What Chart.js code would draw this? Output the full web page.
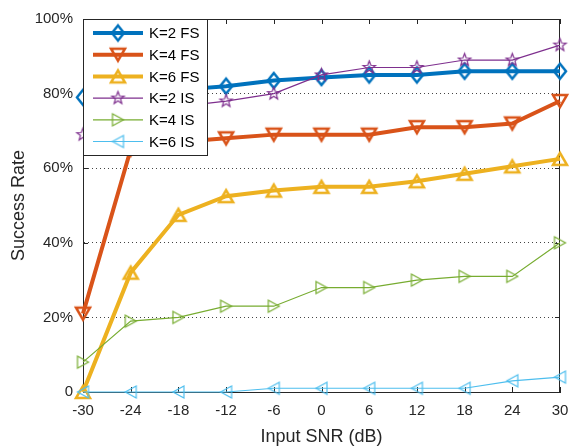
<!DOCTYPE html>
<html>
<head>
<meta charset="utf-8">
<script src="https://cdn.jsdelivr.net/npm/chart.js@4"></script>
<style>
  html, body { margin: 0; padding: 0; background: #fff; }
  canvas { display: block; }
</style>
</head>
<body>
<canvas id="chart1" width="570" height="448"></canvas>
<script>
// данные
const snr = [-30, -24, -18, -12, -6, 0, 6, 12, 18, 24, 30];
const k2fs = [79, 80, 81, 82, 83.5, 84.3, 85, 85, 86, 86, 86];
const k4fs = [21, 65, 67, 68, 69, 69, 69, 71, 71, 72, 78];
const k6fs = [0, 32, 47.5, 52.5, 54, 55, 55, 56.5, 58.5, 60.5, 62.5];
const k2is = [69, 74, 76.5, 78, 80, 85, 87, 87, 89, 89, 93];
const k4is = [8, 19, 20, 23, 23, 28, 28, 30, 31, 31, 40];
const k6is = [0, 0, 0, 0, 1, 1, 1, 1, 1, 3, 4];

const seriesNames = ['K=2 FS', 'K=4 FS', 'K=6 FS', 'K=2 IS', 'K=4 IS', 'K=6 IS'];
const yTicks = [0, 20, 40, 60, 80, 100];
const yTickLabels = ['0', '20%', '40%', '60%', '80%', '100%'];

const axisColor = '#262626';

// маркеры в стиле MATLAB (без заливки)
function marker(shape, color, w, h, lw) {
    const c = document.createElement('canvas');
    const pad = Math.ceil(lw) + 1;
    c.width = w + 2 * pad;
    c.height = h + 2 * pad;
    const g = c.getContext('2d');
    g.strokeStyle = color;
    g.lineWidth = lw;
    g.lineJoin = 'miter';
    g.translate(c.width / 2, c.height / 2);
    const a = w / 2, b = h / 2;
    g.beginPath();
    if (shape === 'diamond') {
        g.moveTo(0, -b); g.lineTo(a, 0); g.lineTo(0, b); g.lineTo(-a, 0);
    } else if (shape === 'down') {
        g.moveTo(-a, -b); g.lineTo(a, -b); g.lineTo(0, b);
    } else if (shape === 'up') {
        g.moveTo(-a, b); g.lineTo(a, b); g.lineTo(0, -b);
    } else if (shape === 'right') {
        g.moveTo(-a, -b); g.lineTo(a, 0); g.lineTo(-a, b);
    } else if (shape === 'left') {
        g.moveTo(a, -b); g.lineTo(-a, 0); g.lineTo(a, b);
    } else if (shape === 'star') {
        for (let i = 0; i < 10; i++) {
            const r = i % 2 === 0 ? a : a * 0.42;
            const ang = -Math.PI / 2 + i * Math.PI / 5;
            const px = Math.cos(ang) * r, py = Math.sin(ang) * r;
            if (i === 0) g.moveTo(px, py); else g.lineTo(px, py);
        }
    }
    g.closePath();
    g.stroke();
    return c;
}

const colors = ['#0072BD', '#D95319', '#EDB120', '#7E2F8E', '#77AC30', '#4DBEEE'];
const widths = [4, 4, 4, 1.2, 1.2, 1.2];
const markers = [
    marker('diamond', colors[0], 12, 15, 2.5),
    marker('down', colors[1], 14, 12, 2.5),
    marker('up', colors[2], 14, 12, 2.5),
    marker('star', colors[3], 13, 13, 1.2),
    marker('right', colors[4], 11, 12, 1.2),
    marker('left', colors[5], 11, 12, 1.2)
];
const allSeries = [k2fs, k4fs, k6fs, k2is, k4is, k6is];

const datasets = allSeries.map((vals, i) => ({
    label: seriesNames[i],
    data: snr.map((x, j) => ({ x: x, y: vals[j] })),
    borderColor: colors[i],
    borderWidth: widths[i],
    pointStyle: markers[i],
    pointRadius: 6,
    tension: 0,
    clip: false,
    order: 6 - i
}));

// рамка: верхняя и правая линии + тики внутрь
const framePlugin = {
    id: 'frame',
    beforeDatasetsDraw(chart) {
        const { ctx, chartArea: ca, scales } = chart;
        ctx.save();
        ctx.strokeStyle = axisColor;
        ctx.lineWidth = 1;
        ctx.beginPath();
        ctx.moveTo(ca.left, ca.top + 0.5); ctx.lineTo(ca.right, ca.top + 0.5);
        ctx.moveTo(ca.right - 0.5, ca.top); ctx.lineTo(ca.right - 0.5, ca.bottom);
        snr.forEach(v => {
            const x = Math.round(scales.x.getPixelForValue(v)) + 0.5;
            ctx.moveTo(x, ca.bottom); ctx.lineTo(x, ca.bottom - 5);
            ctx.moveTo(x, ca.top); ctx.lineTo(x, ca.top + 5);
        });
        yTicks.forEach(v => {
            const y = Math.round(scales.y.getPixelForValue(v)) + 0.5;
            ctx.moveTo(ca.left, y); ctx.lineTo(ca.left + 5, y);
            ctx.moveTo(ca.right, y); ctx.lineTo(ca.right - 5, y);
        });
        ctx.stroke();
        ctx.restore();
    }
};

// легенда в левом верхнем углу, поверх линий
const legendPlugin = {
    id: 'boxLegend',
    afterDatasetsDraw(chart) {
        const { ctx, chartArea: ca } = chart;
        const left = ca.left, top = ca.top, w = 124, h = 136;
        ctx.save();
        ctx.fillStyle = '#fff';
        ctx.fillRect(left, top, w, h);
        ctx.strokeStyle = axisColor;
        ctx.lineWidth = 1;
        ctx.strokeRect(left + 0.5, top + 0.5, w, h);
        ctx.font = '15px "Liberation Sans", Arial, sans-serif';
        ctx.textBaseline = 'middle';
        ctx.fillStyle = '#000';
        seriesNames.forEach((name, i) => {
            const y = top + 14 + i * 21.7;
            ctx.strokeStyle = colors[i];
            ctx.lineWidth = widths[i];
            ctx.beginPath();
            ctx.moveTo(left + 10, y);
            ctx.lineTo(left + 60, y);
            ctx.stroke();
            const m = markers[i];
            ctx.drawImage(m, left + 35 - m.width / 2, y - m.height / 2);
            ctx.fillText(name, left + 66, y + 1);
        });
        ctx.restore();
    }
};

Chart.defaults.font.family = '"Liberation Sans", Arial, sans-serif';
Chart.defaults.color = axisColor;

new Chart(document.getElementById('chart1').getContext('2d'), {
    type: 'line',
    data: { datasets: datasets },
    plugins: [framePlugin, legendPlugin],
    options: {
        responsive: false,
        animation: false,
        devicePixelRatio: 1,
        layout: { padding: { top: 18, right: 7, left: 0, bottom: 0 } },
        plugins: {
            legend: { display: false },
            tooltip: { enabled: false }
        },
        scales: {
            x: {
                type: 'linear',
                min: -30,
                max: 30,
                afterBuildTicks(scale) {
                    scale.ticks = snr.map(v => ({ value: v }));
                },
                afterFit(scale) {
                    scale.height = 56;
                    scale.paddingLeft = 0;
                    scale.paddingRight = 0;
                },
                ticks: { font: { size: 15 }, color: axisColor, padding: 10, maxRotation: 0 },
                grid: { display: false, drawTicks: false },
                border: { display: true, color: axisColor, width: 1 },
                title: {
                    display: true,
                    text: 'Input SNR (dB)',
                    font: { size: 18 },
                    color: axisColor,
                    padding: { top: 4, bottom: 0 }
                }
            },
            y: {
                min: 0,
                max: 100,
                afterBuildTicks(scale) {
                    scale.ticks = yTicks.map(v => ({ value: v }));
                },
                afterFit(scale) {
                    scale.width = 83;
                },
                ticks: {
                    font: { size: 15 },
                    color: axisColor,
                    padding: 10,
                    callback: function (value) {
                        return yTickLabels[yTicks.indexOf(value)];
                    }
                },
                grid: {
                    drawTicks: false,
                    color: '#444',
                    lineWidth: 1
                },
                border: { display: true, color: axisColor, width: 1, dash: [1, 3] },
                title: {
                    display: true,
                    text: 'Success Rate',
                    font: { size: 18 },
                    color: axisColor,
                    padding: { top: 8, bottom: 0 }
                }
            }
        }
    }
});
</script>
</body>
</html>
